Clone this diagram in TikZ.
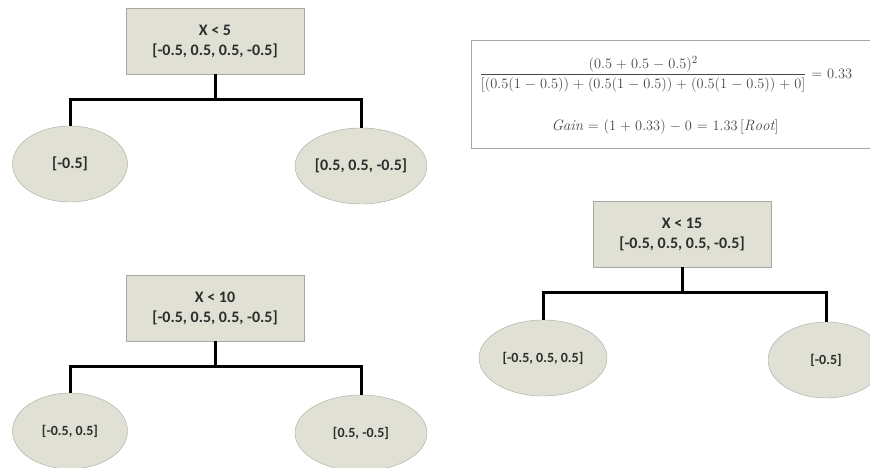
\documentclass[tikz,border=0pt]{standalone}
\usepackage{amsmath}
\usepackage{xcolor}
\usepackage{fontspec}
\usepackage{tikz}
\usetikzlibrary{shapes.geometric}

\newfontfamily\calibri{Carlito}
\definecolor{nodefill}{RGB}{224,224,212}
\definecolor{nodeline}{RGB}{168,168,160}
\definecolor{nodetext}{RGB}{45,45,45}
\definecolor{formtext}{RGB}{70,70,70}

\begin{document}
\begin{tikzpicture}[x=1pt,y=-1pt]

\tikzstyle{splitbox}=[draw=nodeline,fill=nodefill,text=nodetext,minimum width=178pt,
  minimum height=66pt,inner sep=0pt,align=center,
  font=\calibri\bfseries\fontsize{16}{20}\selectfont]
\tikzstyle{leaf}=[ellipse,draw=nodeline,fill=nodefill,text=nodetext,inner sep=0pt,
  minimum height=76pt,font=\calibri\bfseries\fontsize{16}{18}\selectfont]
\tikzstyle{smallleaf}=[leaf,font=\calibri\bfseries\fontsize{14}{17}\selectfont]
\tikzstyle{branch}=[line width=3pt,black]

\useasboundingbox (0,0) rectangle (870,468);

%% Tree for X < 5
\node [splitbox] (split5) at (215,41) {X < 5\\{}[-0.5, 0.5, 0.5, -0.5]};
\node [leaf,minimum width=115pt] (leaf5a) at (70,164) {[-0.5]};
\node [leaf,minimum width=132pt] (leaf5b) at (361,166) {[0.5, 0.5, -0.5]};
\draw [branch] (split5.south) -- ++(0,25) coordinate (fork5);
\draw [branch] (fork5) -| (leaf5a.north);
\draw [branch] (fork5) -| (leaf5b.north);

%% Tree for X < 10
\node [splitbox] (split10) at (215,308) {X < 10\\{}[-0.5, 0.5, 0.5, -0.5]};
\node [smallleaf,minimum width=115pt] (leaf10a) at (70,431) {[-0.5, 0.5]};
\node [smallleaf,minimum width=132pt] (leaf10b) at (361,433) {[0.5, -0.5]};
\draw [branch] (split10.south) -- ++(0,25) coordinate (fork10);
\draw [branch] (fork10) -| (leaf10a.north);
\draw [branch] (fork10) -| (leaf10b.north);

%% Tree for X < 15
\node [splitbox] (split15) at (682,234) {X < 15\\{}[-0.5, 0.5, 0.5, -0.5]};
\node [smallleaf,minimum width=128pt] (leaf15a) at (543,358) {[-0.5, 0.5, 0.5]};
\node [smallleaf,minimum width=116pt] (leaf15b) at (826,360) {[-0.5]};
\draw [branch] (split15.south) -- ++(0,25) coordinate (fork15);
\draw [branch] (fork15) -| (leaf15a.north);
\draw [branch] (fork15) -| (leaf15b.north);

%% Gain at the root
\node [draw=nodeline,fill=white,minimum width=400pt,minimum height=108pt,anchor=north west]
  (gainbox) at (471,40) {};
\node [text=formtext,font=\fontsize{15}{18}\selectfont] (ratio) at (666,74)
  {$\medmuskip=5mu plus 2mu \thickmuskip=6mu
   \dfrac{(0.5 + 0.5 - 0.5)^2}{[(0.5(1 - 0.5)) + (0.5(1 - 0.5)) + (0.5(1 - 0.5)) + 0]} = 0.33$};
\node [text=formtext,font=\fontsize{15}{18}\selectfont] (gain) at (665,127)
  {$\medmuskip=5mu \thickmuskip=6mu \mathit{Gain} = (1 + 0.33) - 0 = 1.33\,[\mathit{Root}]$};

\end{tikzpicture}
\end{document}
